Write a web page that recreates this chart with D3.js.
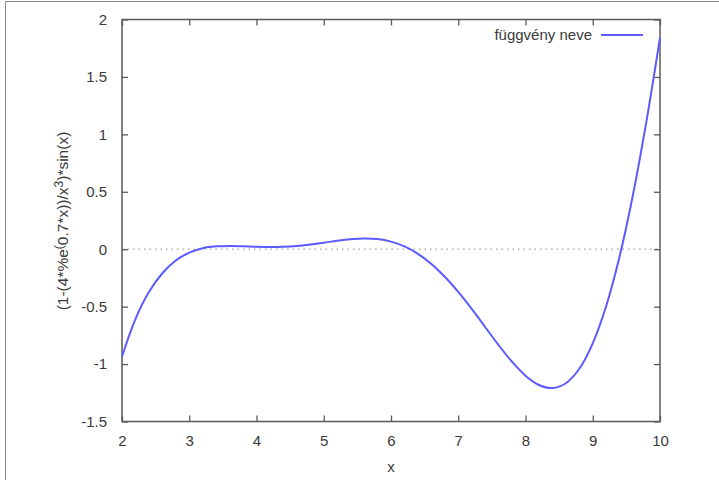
<!DOCTYPE html>
<html>
<head>
<meta charset="utf-8">
<script src="https://cdn.jsdelivr.net/npm/d3@7"></script>
<style>
  html, body { margin: 0; padding: 0; background: #fff; }
  svg { display: block; }
  text { font-family: "Liberation Sans", Arial, sans-serif; fill: #3a3a3a; }
</style>
</head>
<body>
<svg id="chart" width="719" height="480"></svg>
<script>
// Sampled values of (1-(4*e^(0.7x))/x^3)*sin(x)
const xValues = [2.0, 2.2, 2.4, 2.6, 2.8, 3.0, 3.2, 3.4, 3.6, 3.8,
                 4.0, 4.2, 4.4, 4.6, 4.8, 5.0, 5.2, 5.4, 5.6, 5.8,
                 6.0, 6.2, 6.4, 6.6, 6.8, 7.0, 7.2, 7.4, 7.6, 7.8,
                 8.0, 8.2, 8.4, 8.6, 8.8, 9.0, 9.2, 9.4, 9.6, 9.8, 10.0];
const yValues = [-0.934, -0.608, -0.373, -0.209, -0.098, -0.030, 0.009, 0.025, 0.029, 0.026,
                 0.021, 0.019, 0.021, 0.028, 0.041, 0.057, 0.074, 0.087, 0.093, 0.088,
                 0.066, 0.024, -0.040, -0.128, -0.240, -0.372, -0.520, -0.677, -0.835, -0.980,
                 -1.101, -1.182, -1.209, -1.167, -1.041, -0.819, -0.494, -0.061, 0.479, 1.119, 1.842];
const xTicks = [2, 3, 4, 5, 6, 7, 8, 9, 10];
const yTicks = [-1.5, -1, -0.5, 0, 0.5, 1, 1.5, 2];
const seriesName = "függvény neve";

const svg = d3.select("#chart");

// outer frame of the figure
svg.append("line").attr("x1", 5.5).attr("x2", 719).attr("y1", 1.5).attr("y2", 1.5)
  .attr("stroke", "#8a8a8a").attr("stroke-width", 1);
svg.append("line").attr("x1", 5.5).attr("x2", 5.5).attr("y1", 1.5).attr("y2", 480)
  .attr("stroke", "#8a8a8a").attr("stroke-width", 1);

const plotLeft = 122, plotRight = 660, plotTop = 19.5, plotBottom = 421.5;
const x = d3.scaleLinear().domain([2, 10]).range([plotLeft, plotRight]);
const y = d3.scaleLinear().domain([-1.5, 2]).range([plotBottom, plotTop]);

const axisColor = "#5a5a5a";
const tickLen = 6;

// zero reference line
svg.append("line")
  .attr("x1", x(2)).attr("x2", x(10)).attr("y1", y(0)).attr("y2", y(0))
  .attr("stroke", "#a0a0a0").attr("stroke-width", 1.2)
  .attr("stroke-dasharray", "1.5,4");

// axes: ticks pointing inward, mirrored on top and right
function styleAxis(g) {
  g.select(".domain").remove();
  g.selectAll(".tick line").attr("stroke", axisColor).attr("stroke-width", 1.3);
  g.selectAll(".tick text").attr("font-size", 15).attr("fill", "#3a3a3a");
}
const fmt = d => String(d);
svg.append("g").attr("transform", `translate(0,${plotBottom})`)
  .call(d3.axisBottom(x).tickValues(xTicks).tickFormat(fmt).tickSizeInner(-tickLen).tickSizeOuter(0).tickPadding(14))
  .call(styleAxis);
svg.append("g").attr("transform", `translate(0,${plotTop})`)
  .call(d3.axisTop(x).tickValues(xTicks).tickFormat("").tickSizeInner(-tickLen).tickSizeOuter(0))
  .call(styleAxis);
svg.append("g").attr("transform", `translate(${plotLeft},0)`)
  .call(d3.axisLeft(y).tickValues(yTicks).tickFormat(fmt).tickSizeInner(-tickLen).tickSizeOuter(0).tickPadding(15))
  .call(styleAxis);
svg.append("g").attr("transform", `translate(${plotRight},0)`)
  .call(d3.axisRight(y).tickValues(yTicks).tickFormat("").tickSizeInner(-tickLen).tickSizeOuter(0))
  .call(styleAxis);

// plot border
svg.append("rect")
  .attr("x", plotLeft).attr("y", plotTop).attr("width", plotRight - plotLeft).attr("height", plotBottom - plotTop)
  .attr("fill", "none").attr("stroke", axisColor).attr("stroke-width", 1.5);

// curve
const pts = xValues.map((v, i) => [v, yValues[i]]);
svg.append("path")
  .datum(pts)
  .attr("fill", "none")
  .attr("stroke", "#5b5bff")
  .attr("stroke-width", 2)
  .attr("d", d3.line().x(d => x(d[0])).y(d => y(d[1])).curve(d3.curveCatmullRom.alpha(0.5)));

// legend
svg.append("text")
  .attr("x", 592).attr("y", 40)
  .attr("text-anchor", "end").attr("font-size", 15)
  .text(seriesName);
svg.append("line")
  .attr("x1", 601).attr("x2", 643).attr("y1", 35).attr("y2", 35)
  .attr("stroke", "#5b5bff").attr("stroke-width", 2);

// axis titles
svg.append("text")
  .attr("x", x(6)).attr("y", 472)
  .attr("text-anchor", "middle").attr("font-size", 15)
  .text("x");

const yTitle = svg.append("text")
  .attr("transform", "translate(68,221) rotate(-90)")
  .attr("text-anchor", "middle").attr("font-size", 15.5);
yTitle.append("tspan").text("(1-(4*%e");
yTitle.append("tspan").attr("font-size", 12).attr("dy", -5).text("(");
yTitle.append("tspan").attr("dy", 5).text("0.7*x))/x");
yTitle.append("tspan").attr("font-size", 12).attr("dy", -5).text("3");
yTitle.append("tspan").attr("dy", 5).text(")*sin(x)");
</script>
</body>
</html>
